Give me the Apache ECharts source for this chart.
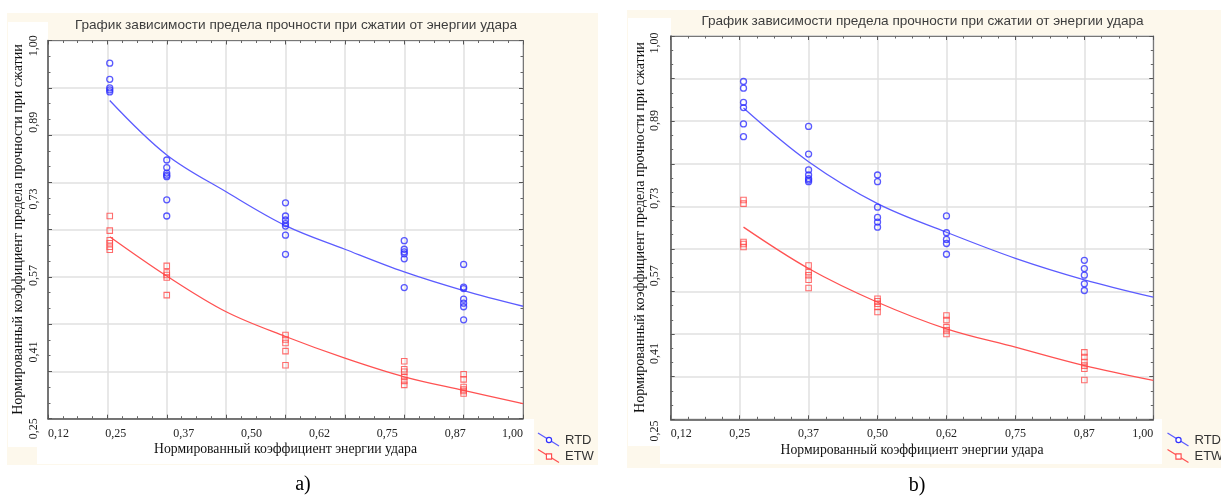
<!DOCTYPE html>
<html>
<head>
<meta charset="utf-8">
<title>График зависимости предела прочности при сжатии от энергии удара</title>
<script src="https://cdn.jsdelivr.net/npm/echarts@6.0.0/dist/echarts.min.js"></script>
<style>
    html, body { margin: 0; padding: 0; background: #fff; }
    #main { width: 1221px; height: 497px; }
</style>
</head>
<body>
<div id="main"></div>
<script>
var titleText = 'График зависимости предела прочности при сжатии от энергии удара';
var xName = 'Нормированный коэффициент энергии удара';
var yName = 'Нормированный коэффициент предела прочности при сжатии';

// tick labels as printed on both panels
var xLabels = ['0,12', '0,25', '0,37', '0,50', '0,62', '0,75', '0,87', '1,00'];
var yLabels = ['0,25', '0,41', '0,57', '0,73', '0,89', '1,00'];

// panel a) - x of each group of points, values per group
var aX = [0.13, 0.25, 0.5, 0.75, 0.875];
var aRtd = [
    [0.955, 0.923, 0.906, 0.902, 0.898],
    [0.763, 0.748, 0.737, 0.733, 0.730, 0.684, 0.652],
    [0.678, 0.652, 0.644, 0.637, 0.632, 0.614, 0.576],
    [0.603, 0.586, 0.581, 0.577, 0.567, 0.510],
    [0.556, 0.511, 0.508, 0.487, 0.479, 0.472, 0.446]
];
var aEtw = [
    [0.652, 0.623, 0.604, 0.598, 0.591, 0.585],
    [0.553, 0.540, 0.535, 0.530, 0.495],
    [0.416, 0.407, 0.400, 0.384, 0.356],
    [0.364, 0.348, 0.343, 0.333, 0.325, 0.317],
    [0.338, 0.328, 0.313, 0.308, 0.305, 0.300]
];
var aFitX = [0.13, 0.25, 0.375, 0.5, 0.625, 0.75, 0.875, 1.0];
var aRtdFit = [0.881, 0.773, 0.700, 0.633, 0.586, 0.541, 0.504, 0.473];
var aEtwFit = [0.611, 0.533, 0.462, 0.413, 0.370, 0.333, 0.306, 0.280];

// panel b)
var bX = [0.257, 0.375, 0.5, 0.625, 0.875];
var bRtd = [
    [0.911, 0.898, 0.870, 0.860, 0.828, 0.803],
    [0.823, 0.769, 0.738, 0.728, 0.721, 0.718, 0.715],
    [0.728, 0.715, 0.665, 0.645, 0.636, 0.626],
    [0.648, 0.615, 0.602, 0.594, 0.573],
    [0.561, 0.545, 0.532, 0.515, 0.502]
];
var bEtw = [
    [0.679, 0.672, 0.597, 0.593, 0.587],
    [0.551, 0.538, 0.532, 0.523, 0.507],
    [0.486, 0.481, 0.476, 0.470, 0.460],
    [0.453, 0.444, 0.430, 0.424, 0.417],
    [0.381, 0.372, 0.362, 0.355, 0.349, 0.327]
];
var bFitX = [0.257, 0.375, 0.5, 0.625, 0.75, 0.875, 1.0];
var bRtdFit = [0.859, 0.754, 0.672, 0.616, 0.565, 0.523, 0.489];
var bEtwFit = [0.626, 0.545, 0.479, 0.427, 0.391, 0.355, 0.326];

var serif = '"Liberation Serif", "Times New Roman", serif';
var sans = '"Liberation Sans", Arial, sans-serif';
var blue = '#3030ff', blueLine = '#5c5cff';
var red = '#ff4848', redLine = '#ff5252';

var myChart = echarts.init(document.getElementById('main'));

var option = {
    backgroundColor: '#fff',
    animation: false,
    grid: [],
    xAxis: [],
    yAxis: [],
    series: [],
    graphic: []
};

function points(xs, groups) {
    var out = [];
    groups.forEach(function (vals, i) {
        vals.forEach(function (v) { out.push([xs[i], v]); });
    });
    return out;
}

function pairs(xs, ys) {
    return xs.map(function (x, i) { return [x, ys[i]]; });
}

var tick = { show: true, inside: true, length: 4, lineStyle: { color: '#555' } };
function minor(n) {
    return { show: true, splitNumber: n, length: 2.5, lineStyle: { color: '#666' } };
}

function addPanel(p) {
    var g = option.grid.length;
    var xi = option.xAxis.length;
    var yi = option.yAxis.length;

    option.grid.push({
        left: p.left, top: p.top, width: p.width, height: p.height,
        show: true, backgroundColor: '#fff', borderColor: '#777', borderWidth: 1
    });
    // invisible grid only used to place the y tick labels
    option.grid.push({ left: p.left, top: p.labTop, width: p.width, height: p.labHeight });

    // x: data + grid lines
    option.xAxis.push({
        type: 'value', gridIndex: g, min: p.xMin, max: 1, interval: 0.125,
        axisLine: { show: true, onZero: false, lineStyle: { color: '#555', width: 1.5 } },
        axisTick: tick, minorTick: minor(4),
        splitLine: { show: true, lineStyle: { color: '#e1e1e1', width: 1.5 } },
        axisLabel: { show: false },
        name: xName, nameLocation: 'middle', nameGap: 24,
        nameTextStyle: { fontFamily: serif, fontSize: 13.7, color: '#111' }
    });
    // top border ticks
    option.xAxis.push({
        type: 'value', gridIndex: g, position: 'top', min: p.xMin, max: 1, interval: 0.125,
        axisLine: { show: true, onZero: false, lineStyle: { color: '#777', width: 1 } },
        axisTick: tick, minorTick: minor(4),
        splitLine: { show: false }, axisLabel: { show: false }
    });
    // printed x labels
    option.xAxis.push({
        type: 'category', gridIndex: g, position: 'bottom', data: xLabels, boundaryGap: false,
        axisLine: { show: false }, axisTick: { show: false }, splitLine: { show: false },
        axisLabel: {
            interval: 0, margin: 9, alignMinLabel: 'left', alignMaxLabel: 'right',
            fontFamily: serif, fontSize: 12, color: '#222'
        }
    });
    option.xAxis.push({ type: 'value', gridIndex: g + 1, show: false });

    // y: data scale
    option.yAxis.push({ type: 'value', gridIndex: g, min: 0.25, max: 1, show: false });
    // y: grid lines
    option.yAxis.push({
        type: 'value', gridIndex: g, position: 'left', min: 0, max: p.ySteps, interval: 1,
        axisLine: { show: true, onZero: false, lineStyle: { color: '#555', width: 1.5 } },
        axisTick: tick, minorTick: minor(3),
        splitLine: { show: true, lineStyle: { color: '#e1e1e1', width: 1.5 } },
        axisLabel: { show: false },
        name: yName, nameLocation: 'middle', nameRotate: 90, nameGap: p.nameGap,
        nameTextStyle: { fontFamily: serif, fontSize: 14, color: '#111' }
    });
    // right border ticks
    option.yAxis.push({
        type: 'value', gridIndex: g, position: 'right', min: 0, max: p.ySteps, interval: 1,
        axisLine: { show: true, onZero: false, lineStyle: { color: '#777', width: 1 } },
        axisTick: tick, minorTick: minor(3),
        splitLine: { show: false }, axisLabel: { show: false }
    });
    // printed y labels
    option.yAxis.push({
        type: 'category', gridIndex: g + 1, data: yLabels, boundaryGap: false,
        axisLine: { show: false }, axisTick: { show: false }, splitLine: { show: false },
        axisLabel: { interval: 0, rotate: 90, margin: p.yMargin, fontFamily: serif, fontSize: 12, color: '#222' }
    });

    option.series.push(
        {
            type: 'line', name: 'RTD', xAxisIndex: xi, yAxisIndex: yi,
            data: pairs(p.fitX, p.rtdFit), smooth: 0.35, symbol: 'none',
            lineStyle: { color: blueLine, width: 1.3 }, z: 2
        },
        {
            type: 'line', name: 'ETW', xAxisIndex: xi, yAxisIndex: yi,
            data: pairs(p.fitX, p.etwFit), smooth: 0.35, symbol: 'none',
            lineStyle: { color: redLine, width: 1.3 }, z: 2
        },
        {
            type: 'scatter', name: 'RTD', xAxisIndex: xi, yAxisIndex: yi,
            data: points(p.x, p.rtd), symbol: 'circle', symbolSize: 6,
            itemStyle: { color: 'rgba(0,0,0,0)', borderColor: blue, borderWidth: 1.3 }, z: 3
        },
        {
            type: 'scatter', name: 'ETW', xAxisIndex: xi, yAxisIndex: yi,
            data: points(p.x, p.etw), symbol: 'rect', symbolSize: 5.5,
            itemStyle: { color: 'rgba(0,0,0,0)', borderColor: red, borderWidth: 1.1 }, z: 3
        }
    );
}

addPanel({
    left: 48, top: 40.5, width: 475, height: 378.2, labTop: 45.7, labHeight: 383,
    xMin: 0, ySteps: 8, yMargin: 8, nameGap: 23,
    x: aX, rtd: aRtd, etw: aEtw, fitX: aFitX, rtdFit: aRtdFit, etwFit: aEtwFit
});
addPanel({
    left: 670.7, top: 36, width: 482.6, height: 383.3, labTop: 43, labHeight: 388,
    xMin: 0.125, ySteps: 9, yMargin: 10, nameGap: 23.5,
    x: bX, rtd: bRtd, etw: bEtw, fitX: bFitX, rtdFit: bRtdFit, etwFit: bEtwFit
});

// panel backgrounds (Statistica style cream frame with white label areas)
function box(x, y, w, h, fill) {
    return { type: 'rect', z: -10, silent: true, shape: { x: x, y: y, width: w, height: h }, style: { fill: fill } };
}
function label(x, y, str, font, fill, align) {
    return {
        type: 'text', z: 5, silent: true,
        style: {
            x: x, y: y, text: str, font: font, fill: fill,
            align: align, textAlign: align, verticalAlign: 'middle', textVerticalAlign: 'middle'
        }
    };
}
function legendItem(x, y, color, lineColor, mark, str) {
    var items = [{
        type: 'line', z: 5, silent: true,
        shape: { x1: x - 11, y1: y - 7, x2: x + 10, y2: y + 6 },
        style: { stroke: lineColor, lineWidth: 1.3 }
    }];
    if (mark === 'circle') {
        items.push({ type: 'circle', z: 6, silent: true, shape: { cx: x, cy: y, r: 2.6 },
            style: { fill: '#fff', stroke: color, lineWidth: 1.2 } });
    } else {
        items.push({ type: 'rect', z: 6, silent: true, shape: { x: x - 2.6, y: y - 2.6, width: 5.2, height: 5.2 },
            style: { fill: '#fff', stroke: color, lineWidth: 1.1 } });
    }
    items.push(label(x + 16, y, str, '13px ' + sans, '#333', 'left'));
    return items;
}

var cream = '#fdf8ec';
option.graphic = [
    box(7, 13, 591, 452, cream),
    box(8, 22, 40, 425, '#fff'),
    box(37, 419, 497, 45, '#fff'),
    box(627, 10, 594, 458, cream),
    box(628, 18, 43, 428, '#fff'),
    box(660, 419, 502, 45, '#fff'),
    label(296, 25.5, titleText, '13.6px ' + sans, '#3d3d3d', 'center'),
    label(922.5, 21, titleText, '13.6px ' + sans, '#3d3d3d', 'center'),
    label(303, 485, 'a)', '20px ' + serif, '#000', 'center'),
    label(917, 486, 'b)', '20px ' + serif, '#000', 'center')
].concat(
    legendItem(549, 440, blue, blueLine, 'circle', 'RTD'),
    legendItem(549, 456.5, red, redLine, 'rect', 'ETW'),
    legendItem(1178.5, 440, blue, blueLine, 'circle', 'RTD'),
    legendItem(1178.5, 456.5, red, redLine, 'rect', 'ETW')
);

myChart.setOption(option);
</script>
</body>
</html>
